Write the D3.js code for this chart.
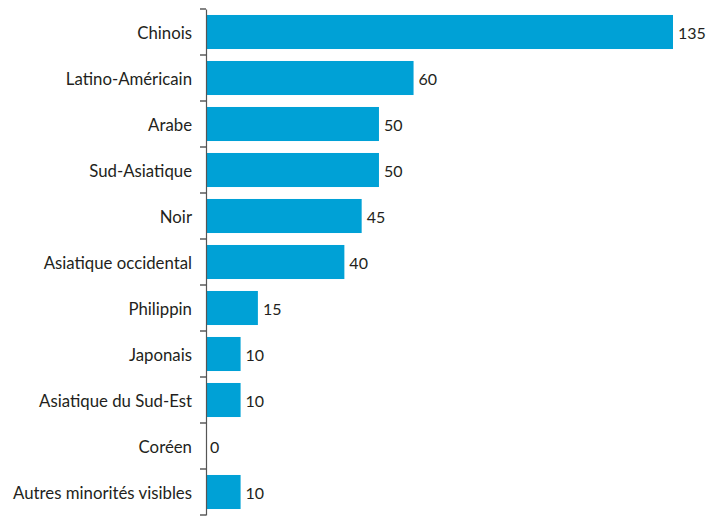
<!DOCTYPE html>
<html><head><meta charset="utf-8">
<script src="https://cdn.jsdelivr.net/npm/d3@7"></script>
<style>body{margin:0;background:#fff}</style>
</head><body>
<svg id="c" width="715" height="516"></svg>
<script>
const categories = ["Chinois","Latino-Américain","Arabe","Sud-Asiatique","Noir","Asiatique occidental","Philippin","Japonais","Asiatique du Sud-Est","Coréen","Autres minorités visibles"];
const values = [135,60,50,50,45,40,15,10,10,0,10];

const svg = d3.select("#c");
const x0 = 206, yTop = 9, step = 46;
const x = d3.scaleLinear().domain([0,135]).range([x0, 673]);
const y = d3.scaleBand().domain(categories).range([yTop, yTop + step*categories.length]).paddingInner(0.26).paddingOuter(0.13);
const font = "Lato, 'Open Sans', sans-serif";

svg.selectAll("rect.bar").data(values).join("rect")
  .attr("class","bar")
  .attr("x", x0)
  .attr("y", (d,i)=>y(categories[i]))
  .attr("width", d=>x(d)-x0)
  .attr("height", y.bandwidth())
  .attr("fill","#00a1d6");

svg.selectAll("text.val").data(values).join("text")
  .attr("class","val")
  .attr("x", d=>x(d)+ (d===0?4:5))
  .attr("y", (d,i)=>y(categories[i])+y.bandwidth()/2+1)
  .attr("dy","0.35em")
  .attr("font-family", font).attr("font-size", 16).attr("fill","#231f20")
  .text(d=>d);

const yAxis = d3.axisLeft(d3.scaleBand().domain(categories).range([yTop, yTop+step*categories.length]))
  .tickSize(0).tickPadding(14);
const g = svg.append("g").attr("transform",`translate(${x0},0)`).call(yAxis);
g.select(".domain").attr("stroke","#555").attr("stroke-width",1.2);
g.selectAll(".tick text").attr("font-family", font).attr("font-size", 16.8).attr("fill","#231f20").attr("dy","0.4em");

const bounds = d3.range(categories.length+1).map(i=>yTop+i*step);
g.selectAll("line.bt").data(bounds).join("line").attr("class","bt")
  .attr("x1",-6).attr("x2",0).attr("y1",d=>d).attr("y2",d=>d)
  .attr("stroke","#333").attr("stroke-width",1.2);
</script>
</body></html>
